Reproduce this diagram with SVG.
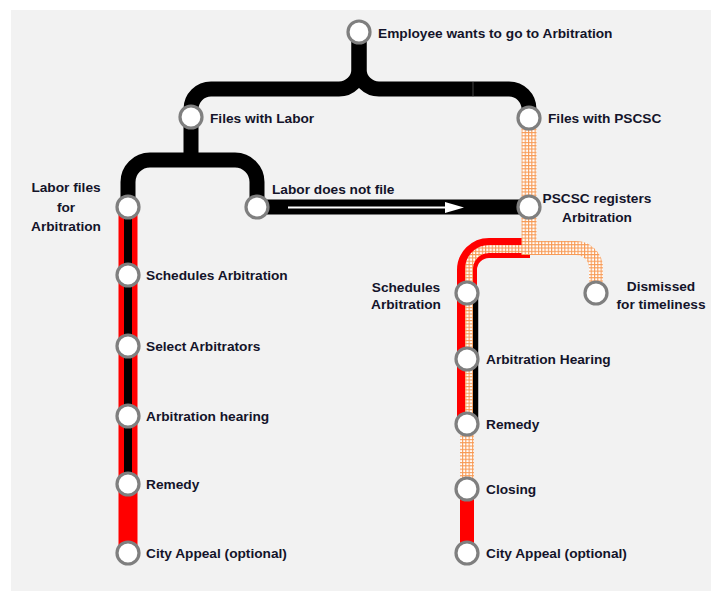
<svg xmlns="http://www.w3.org/2000/svg" width="714" height="593" viewBox="0 0 714 593">
<style>
.lbl{font-family:"Liberation Sans",Arial,sans-serif;font-weight:bold;font-size:13.7px;fill:#14142a}
.mid{text-anchor:middle}
.node{fill:#ffffff;stroke:#7f7f7f;stroke-width:3.2}
.blk{fill:none;stroke:#000000;stroke-width:15}
.red{fill:none;stroke:#ff0000}
.hat{fill:none;stroke:url(#hatch)}
</style>
<defs>
<pattern id="hatch" patternUnits="userSpaceOnUse" width="3.3" height="3.3">
<rect width="3.3" height="3.3" fill="#f79a55"/>
<rect x="1.1" y="1.1" width="2.2" height="2.2" fill="#ffffff"/>
</pattern>
</defs>
<rect x="0" y="0" width="714" height="593" fill="#ffffff"/>
<rect x="11" y="10" width="700" height="581" fill="#f2f2f2"/>
<g id="connectors">
<path class="blk" d="M359,32 V69 A20,20 0 0 1 339,89 H211 A20,20 0 0 0 191,109 V117"/>
<path class="blk" d="M359,32 V69 A20,20 0 0 0 379,89 H509 A20,20 0 0 1 529,109 V118"/>
<line x1="473" y1="82" x2="473" y2="96.5" stroke="#555555" stroke-width="0.8"/>
<path class="blk" d="M191,117 V160"/>
<path class="blk" d="M128,207 V182 A22,22 0 0 1 150,160 H235 A22,22 0 0 1 257,182 V207"/>
<path class="blk" stroke-width="16" d="M257,207 H529"/>
<line x1="288" y1="207.5" x2="447" y2="207.5" stroke="#ffffff" stroke-width="2"/>
<polygon points="445,202 464,207.5 445,213" fill="#ffffff"/>
<path class="red" stroke-width="19" d="M128,207 V553"/>
<path fill="none" stroke="#000000" stroke-width="8" d="M128,207 V484"/>
<path class="red" stroke-width="20" d="M530,248 H489 A22,22 0 0 0 467,270 V424"/>
<path fill="none" stroke="#000000" stroke-width="5.5" d="M475.5,293 V424"/>
<path class="hat" stroke-width="8" d="M530,249 H489 A20,20 0 0 0 469,269 V424"/>
<path class="hat" stroke-width="14" d="M529,248 H576 A20,20 0 0 1 596,268 V293"/>
<path class="hat" stroke-width="15" d="M529,118 V255"/>
<path class="hat" stroke-width="14" d="M467,424 V489"/>
<path class="red" stroke-width="14" d="M467,489 V553"/>
</g>
<g id="n-employee"><circle class="node" cx="359" cy="32" r="11"/><text class="lbl" x="378" y="38">Employee wants to go to Arbitration</text></g>
<g id="n-files-labor"><circle class="node" cx="191" cy="117" r="11"/><text class="lbl" x="210" y="123">Files with Labor</text></g>
<g id="n-files-pscsc"><circle class="node" cx="529" cy="118" r="11"/><text class="lbl" x="548" y="123">Files with PSCSC</text></g>
<g id="n-labor-files"><circle class="node" cx="128" cy="207" r="11"/><text class="lbl mid" x="66" y="192">Labor files</text><text class="lbl mid" x="66" y="212">for</text><text class="lbl mid" x="66" y="231">Arbitration</text></g>
<g id="n-labor-not"><circle class="node" cx="257" cy="207" r="11"/><text class="lbl" x="272" y="194">Labor does not file</text></g>
<g id="n-pscsc-reg"><circle class="node" cx="529" cy="207" r="11"/><text class="lbl mid" x="597" y="203">PSCSC registers</text><text class="lbl mid" x="597" y="222">Arbitration</text></g>
<g id="n-l-schedules"><circle class="node" cx="128" cy="275" r="11"/><text class="lbl" x="146" y="280">Schedules Arbitration</text></g>
<g id="n-l-select"><circle class="node" cx="128" cy="346" r="11"/><text class="lbl" x="146" y="351">Select Arbitrators</text></g>
<g id="n-l-hearing"><circle class="node" cx="128" cy="416" r="11"/><text class="lbl" x="146" y="421">Arbitration hearing</text></g>
<g id="n-l-remedy"><circle class="node" cx="128" cy="484" r="11"/><text class="lbl" x="146" y="489">Remedy</text></g>
<g id="n-l-appeal"><circle class="node" cx="128" cy="553" r="11"/><text class="lbl" x="146" y="558">City Appeal (optional)</text></g>
<g id="n-r-schedules"><circle class="node" cx="467" cy="293" r="11"/><text class="lbl mid" x="406" y="292">Schedules</text><text class="lbl mid" x="406" y="309">Arbitration</text></g>
<g id="n-dismissed"><circle class="node" cx="596" cy="293" r="11"/><text class="lbl mid" x="661" y="291">Dismissed</text><text class="lbl mid" x="661" y="309">for timeliness</text></g>
<g id="n-r-hearing"><circle class="node" cx="467" cy="359" r="11"/><text class="lbl" x="486" y="364">Arbitration Hearing</text></g>
<g id="n-r-remedy"><circle class="node" cx="467" cy="424" r="11"/><text class="lbl" x="486" y="429">Remedy</text></g>
<g id="n-r-closing"><circle class="node" cx="467" cy="489" r="11"/><text class="lbl" x="486" y="494">Closing</text></g>
<g id="n-r-appeal"><circle class="node" cx="467" cy="553" r="11"/><text class="lbl" x="486" y="558">City Appeal (optional)</text></g>
</svg>
